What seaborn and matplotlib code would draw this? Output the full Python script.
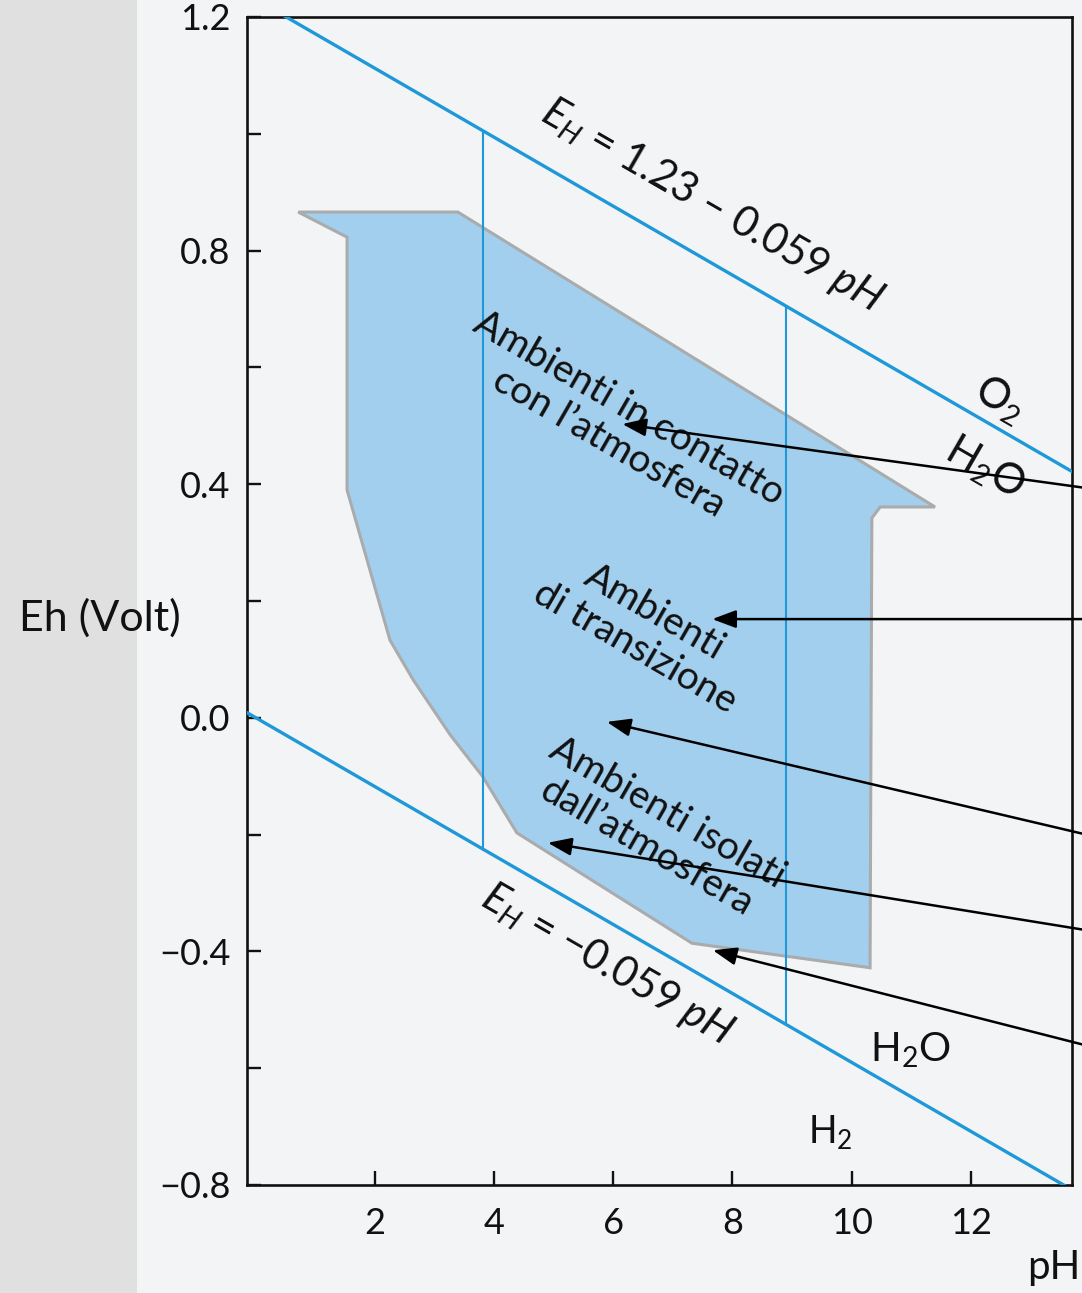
import matplotlib
matplotlib.use("Agg")
import numpy as np
import pandas as pd
import matplotlib.pyplot as plt
import seaborn as sns
from matplotlib.patches import Rectangle

# Boundaries of the water stability field: Eh = intercept + slope * pH
o2_intercept, o2_slope = 1.23, -0.059
h2_intercept, h2_slope = 0.0, -0.059
ph_span = [-0.15, 14.0]

# pH of the two vertical guide lines between the boundaries
guide_ph = [3.82, 8.90]

# Outline of the field of natural environments (pH, Eh)
field_ph = [0.71, 3.39, 11.40, 10.48, 10.34, 10.31, 7.32, 4.38, 3.81, 3.26, 2.64, 2.25, 1.53, 1.53]
field_eh = [0.866, 0.866, 0.361, 0.361, 0.342, -0.428, -0.386, -0.197, -0.101, -0.029, 0.065, 0.133, 0.390, 0.823]

# Axis ticks
x_ticks = [2, 4, 6, 8, 10, 12]
x_labels = ["2", "4", "6", "8", "10", "12"]
y_ticks = [-0.8, -0.6, -0.4, -0.2, 0.0, 0.2, 0.4, 0.6, 0.8, 1.0, 1.2]
y_labels = ["\u22120.8", "", "\u22120.4", "", "0.0", "", "0.4", "", "0.8", "", "1.2"]

# Callout arrows: (tail pH, tail Eh, head pH, head Eh)
arrow_tail_ph = [13.9, 13.9, 13.9, 13.9, 13.9]
arrow_tail_eh = [0.394, 0.169, -0.199, -0.363, -0.560]
arrow_head_ph = [6.15, 7.66, 5.89, 4.90, 7.67]
arrow_head_eh = [0.503, 0.169, -0.007, -0.214, -0.398]

sns.set_theme(style="ticks")
plt.rcParams["font.family"] = ["Lato", "DejaVu Sans"]
plt.rcParams["mathtext.fontset"] = "custom"
plt.rcParams["mathtext.rm"] = "Lato"
plt.rcParams["mathtext.it"] = "Lato:italic"

paper = "#f3f4f6"
blue = "#1e98d8"
ink = "#111111"
fig = plt.figure(figsize=(10.82, 12.93), dpi=100, facecolor=paper)
fig.patches.append(Rectangle((0, 0), 137 / 1082, 1, transform=fig.transFigure,
                             facecolor="#e0e0e0", edgecolor="none", zorder=0))
ax = fig.add_axes([247 / 1082, 1 - 1185 / 1293, 825 / 1082, 1168 / 1293])
ax.set_facecolor("none")

# Natural-environment field
ax.fill(field_ph, field_eh, facecolor="#a3cfee", edgecolor="#a9abad", linewidth=2.2, zorder=1)

# Water stability boundaries
ph = np.array(ph_span)
lines = pd.DataFrame({
    "pH": np.concatenate([ph, ph]),
    "Eh": np.concatenate([o2_intercept + o2_slope * ph, h2_intercept + h2_slope * ph]),
    "edge": ["O2"] * 2 + ["H2"] * 2,
})
sns.lineplot(data=lines, x="pH", y="Eh", units="edge", estimator=None, sort=False,
             color=blue, linewidth=2.4, ax=ax, zorder=3)

# Vertical guides spanning the stability field
guides = pd.DataFrame({
    "pH": [g for g in guide_ph for _ in range(2)],
    "Eh": [v for g in guide_ph
           for v in (h2_intercept + h2_slope * g, o2_intercept + o2_slope * g)],
    "guide": [i for i in range(len(guide_ph)) for _ in range(2)],
})
sns.lineplot(data=guides, x="pH", y="Eh", units="guide", estimator=None, sort=False,
             orient="y", color=blue, linewidth=1.5, ax=ax, zorder=2)

ax.set_xlim(-0.15, 13.7)
ax.set_ylim(-0.8, 1.2)
ax.set_xticks(x_ticks)
ax.set_xticklabels(x_labels)
ax.set_yticks(y_ticks)
ax.set_yticklabels(y_labels)
ax.set_xlabel("")
ax.set_ylabel("")
ax.tick_params(direction="in", length=10, width=1.7, labelsize=26, colors=ink)
ax.tick_params(axis="x", pad=16)
ax.tick_params(axis="y", pad=12)
for s in ax.spines.values():
    s.set_visible(True)
    s.set_linewidth(1.9)
    s.set_color(ink)

txt = dict(color=ink, rotation_mode="anchor", ha="center", va="center", zorder=5)
ax.text(7.66, 0.878, "$E_H$ = 1.23 \u2013 0.059 $pH$",
        rotation=-30, fontsize=30, **txt)
ax.text(6.09, 0.500, "Ambienti in contatto\ncon l\u2019atmosfera", rotation=-30,
        fontsize=28, linespacing=1.15, **txt)
ax.text(6.53, 0.150, "Ambienti\ndi transizione", rotation=-30,
        fontsize=28, linespacing=1.15, **txt)
ax.text(6.73, -0.192, "Ambienti isolati\ndall\u2019atmosfera", rotation=-30,
        fontsize=28, linespacing=1.15, **txt)
ax.text(5.89, -0.423, "$E_H$ = \u22120.059 $pH$",
        rotation=-30, fontsize=30, **txt)
ax.text(12.49, 0.544, "O$_2$", rotation=-30, fontsize=30, **txt)
ax.text(12.24, 0.428, "H$_2$O", rotation=-30, fontsize=30, **txt)
ax.text(10.99, -0.569, "H$_2$O", rotation=0, fontsize=29, **txt)
ax.text(9.64, -0.709, "H$_2$", rotation=0, fontsize=27, **txt)

for tx, ty, hx, hy in zip(arrow_tail_ph, arrow_tail_eh, arrow_head_ph, arrow_head_eh):
    ax.annotate("", xy=(hx, hy), xytext=(tx, ty), annotation_clip=False,
                arrowprops=dict(arrowstyle="-|>,head_length=0.8,head_width=0.3",
                                color="black", lw=1.8,
                                mutation_scale=18, shrinkA=0, shrinkB=0),
                zorder=6)

fig.text(100 / 1082, 1 - 618 / 1293, "Eh (Volt)", fontsize=31, ha="center", va="center",
         color=ink)
fig.text(1080 / 1082, 1 - 1268 / 1293, "pH", fontsize=29, ha="right", va="center",
         color=ink)

fig.savefig("out.png", dpi=100, facecolor=paper)
